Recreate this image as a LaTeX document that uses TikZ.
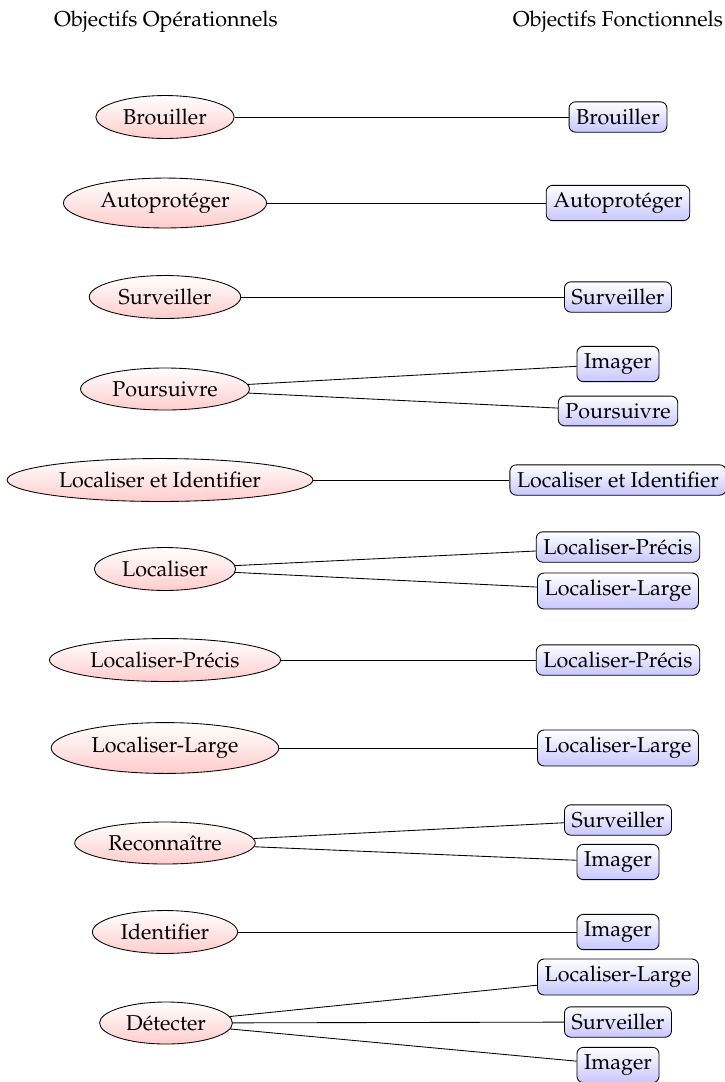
\documentclass[tikz,border=0pt]{standalone}
\usepackage[T1]{fontenc}
\usepackage{mathpazo}
\usetikzlibrary{shapes.geometric}
\tikzset{
  opobj/.style={ellipse, draw, top color=white, bottom color=red!20, inner sep=0.3333em},
  fnobj/.style={rectangle, rounded corners=3pt, draw, top color=white, bottom color=blue!22, inner sep=0.3333em},
  title/.style={inner sep=0pt},
  link/.style={draw, line width=0.4pt}
}
\begin{document}
\begin{tikzpicture}[x=0.465pt, y=-0.465pt]
\useasboundingbox (0,0) rectangle (725,1082);
\node[title] (t1) at (166,22) {Objectifs Opérationnels};
\node[title] (t2) at (618,22) {Objectifs Fonctionnels};

% row 1
\node[opobj] (o1) at (165,117) {Brouiller};
\node[fnobj] (f1) at (618,117) {Brouiller};
\draw[link] (o1) -- (f1);
% row 2
\node[opobj] (o2) at (165,203) {Autoprotéger};
\node[fnobj] (f2) at (618,203) {Autoprotéger};
\draw[link] (o2) -- (f2);
% row 3
\node[opobj] (o3) at (165,297) {Surveiller};
\node[fnobj] (f3) at (618,297) {Surveiller};
\draw[link] (o3) -- (f3);
% row 4
\node[opobj] (o4) at (165,389) {Poursuivre};
\node[fnobj] (f4a) at (618,364) {Imager};
\node[fnobj] (f4b) at (618,411) {Poursuivre};
\draw[link] (o4) -- (f4a);
\draw[link] (o4) -- (f4b);
% row 5
\node[opobj] (o5) at (160,480) {Localiser et Identifier};
\node[fnobj] (f5) at (618,480) {Localiser et Identifier};
\draw[link] (o5) -- (f5);
% row 6
\node[opobj] (o6) at (165,569) {Localiser};
\node[fnobj] (f6a) at (618,547) {Localiser-Précis};
\node[fnobj] (f6b) at (618,591) {Localiser-Large};
\draw[link] (o6) -- (f6a);
\draw[link] (o6) -- (f6b);
% row 7
\node[opobj] (o7) at (165,660) {Localiser-Précis};
\node[fnobj] (f7) at (618,660) {Localiser-Précis};
\draw[link] (o7) -- (f7);
% row 8
\node[opobj] (o8) at (165,748) {Localiser-Large};
\node[fnobj] (f8) at (618,748) {Localiser-Large};
\draw[link] (o8) -- (f8);
% row 9
\node[opobj] (o9) at (165,843) {Reconnaître};
\node[fnobj] (f9a) at (618,820) {Surveiller};
\node[fnobj] (f9b) at (618,862) {Imager};
\draw[link] (o9) -- (f9a);
\draw[link] (o9) -- (f9b);
% row 10
\node[opobj] (o10) at (165,932) {Identifier};
\node[fnobj] (f10) at (618,932) {Imager};
\draw[link] (o10) -- (f10);
% row 11
\node[opobj] (o11) at (166,1023) {Détecter};
\node[fnobj] (f11a) at (618,977) {Localiser-Large};
\node[fnobj] (f11b) at (618,1022) {Surveiller};
\node[fnobj] (f11c) at (618,1065) {Imager};
\draw[link] (o11) -- (f11a);
\draw[link] (o11) -- (f11b);
\draw[link] (o11) -- (f11c);
\end{tikzpicture}
\end{document}
